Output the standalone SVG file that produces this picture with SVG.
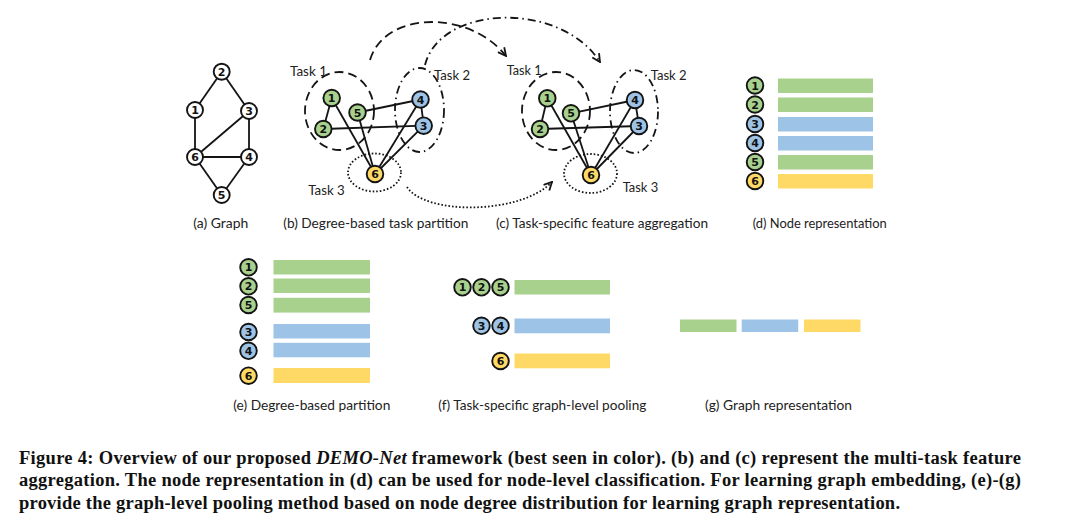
<svg xmlns="http://www.w3.org/2000/svg" width="1080" height="523" viewBox="0 0 1080 523">
<style>
.bg{fill:#ffffff}
.n circle{stroke:#141414;stroke-width:1.9}
.w{fill:#ffffff}
.g{fill:#A9D18E}
.b{fill:#9DC3E6}
.y{fill:#FFD966}
.n text{font-family:"DejaVu Sans","Liberation Sans",sans-serif;font-weight:bold;font-size:11px;fill:#111;text-anchor:middle}
.e{stroke:#141414;stroke-width:1.8;fill:none}
.t1{fill:none;stroke:#141414;stroke-width:1.8;stroke-dasharray:9 5}
.t2{fill:none;stroke:#141414;stroke-width:1.8;stroke-dasharray:8 4 1.5 4}
.t3{fill:none;stroke:#141414;stroke-width:1.8;stroke-dasharray:1.6 2}
.lbl{font-family:Lato,"Liberation Sans",sans-serif;font-size:13.5px;fill:#222}
.bg1{fill:#A9D18E}
.bb1{fill:#9DC3E6}
.by1{fill:#FFD966}
.cap{font-family:"Liberation Serif","Times New Roman",serif;font-weight:bold;font-size:18.5px;fill:#111}
</style>
<defs>
<marker id="ah" viewBox="0 0 10 10" refX="9" refY="5" markerWidth="10" markerHeight="10" markerUnits="userSpaceOnUse" orient="auto">
<path d="M1,1 L9,5 L1,9" fill="none" stroke="#141414" stroke-width="1.8" stroke-dasharray="none"/>
</marker>
</defs>
<rect class="bg" x="0" y="0" width="1080" height="523"/>

<g id="connectors">
<g id="edges-a">
<line class="e" x1="221.7" y1="71.7" x2="195" y2="110"/>
<line class="e" x1="221.7" y1="71.7" x2="249" y2="111"/>
<line class="e" x1="195" y1="110" x2="195" y2="157"/>
<line class="e" x1="249" y1="111" x2="195" y2="157"/>
<line class="e" x1="249" y1="111" x2="249" y2="157"/>
<line class="e" x1="195" y1="157" x2="249" y2="157"/>
<line class="e" x1="195" y1="157" x2="221.7" y2="195"/>
<line class="e" x1="249" y1="157" x2="221.7" y2="195"/>
</g>
<g id="tasks-b">
<ellipse class="t1" cx="339.5" cy="111" rx="34.5" ry="39"/>
<ellipse class="t2" cx="419.5" cy="110" rx="24.5" ry="42"/>
<ellipse class="t3" cx="374.5" cy="172.5" rx="26.5" ry="19"/>
</g>
<g id="tasks-c">
<ellipse class="t1" cx="556" cy="111" rx="34" ry="39"/>
<ellipse class="t2" cx="634" cy="111.5" rx="24" ry="41.5"/>
<ellipse class="t3" cx="590.5" cy="173.5" rx="26.5" ry="19.5"/>
</g>
<g id="edges-b">
<line class="e" x1="331.7" y1="98" x2="323.3" y2="129"/>
<line class="e" x1="331.7" y1="98" x2="375" y2="174"/>
<line class="e" x1="357.5" y1="112.5" x2="375" y2="174"/>
<line class="e" x1="357.5" y1="112.5" x2="420.5" y2="99.5"/>
<line class="e" x1="323.3" y1="129" x2="423.7" y2="125.7"/>
<line class="e" x1="420.5" y1="99.5" x2="423.7" y2="125.7"/>
<line class="e" x1="420.5" y1="99.5" x2="375" y2="174"/>
<line class="e" x1="423.7" y1="125.7" x2="375" y2="174"/>
</g>
<g id="edges-c">
<line class="e" x1="547.3" y1="98.3" x2="540" y2="129"/>
<line class="e" x1="547.3" y1="98.3" x2="591" y2="175"/>
<line class="e" x1="571" y1="113.3" x2="591" y2="175"/>
<line class="e" x1="571" y1="113.3" x2="635" y2="100"/>
<line class="e" x1="540" y1="129" x2="639" y2="126"/>
<line class="e" x1="635" y1="100" x2="639" y2="126"/>
<line class="e" x1="635" y1="100" x2="591" y2="175"/>
<line class="e" x1="639" y1="126" x2="591" y2="175"/>
</g>
<g id="arrows">
<path class="t1" d="M370,60 C385,10 470,10 506,56" marker-end="url(#ah)"/>
<path class="t2" d="M425,65 C440,5 560,0 600,62" marker-end="url(#ah)"/>
<path class="t3" d="M407,187 C425,215 520,215 552,182" marker-end="url(#ah)"/>
</g>
</g>

<g id="a2" class="n"><circle class="w" cx="221.7" cy="71.7" r="8"/><text x="221.7" y="75.7">2</text></g>
<g id="a1" class="n"><circle class="w" cx="195" cy="110" r="8"/><text x="195" y="114">1</text></g>
<g id="a3" class="n"><circle class="w" cx="249" cy="111" r="8"/><text x="249" y="115">3</text></g>
<g id="a6" class="n"><circle class="w" cx="195" cy="157" r="8"/><text x="195" y="161">6</text></g>
<g id="a4" class="n"><circle class="w" cx="249" cy="157" r="8"/><text x="249" y="161">4</text></g>
<g id="a5" class="n"><circle class="w" cx="221.7" cy="195" r="8"/><text x="221.7" y="199">5</text></g>

<g id="b1" class="n"><circle class="g" cx="331.7" cy="98" r="8.3"/><text x="331.7" y="102">1</text></g>
<g id="b5" class="n"><circle class="g" cx="357.5" cy="112.5" r="8.3"/><text x="357.5" y="116.5">5</text></g>
<g id="b2" class="n"><circle class="g" cx="323.3" cy="129" r="8.3"/><text x="323.3" y="133">2</text></g>
<g id="b4" class="n"><circle class="b" cx="420.5" cy="99.5" r="8.3"/><text x="420.5" y="103.5">4</text></g>
<g id="b3" class="n"><circle class="b" cx="423.7" cy="125.7" r="8.3"/><text x="423.7" y="129.7">3</text></g>
<g id="b6" class="n"><circle class="y" cx="375" cy="174" r="8.3"/><text x="375" y="178">6</text></g>

<g id="c1" class="n"><circle class="g" cx="547.3" cy="98.3" r="8.3"/><text x="547.3" y="102.3">1</text></g>
<g id="c5" class="n"><circle class="g" cx="571" cy="113.3" r="8.3"/><text x="571" y="117.3">5</text></g>
<g id="c2" class="n"><circle class="g" cx="540" cy="129" r="8.3"/><text x="540" y="133">2</text></g>
<g id="c4" class="n"><circle class="b" cx="635" cy="100" r="8.3"/><text x="635" y="104">4</text></g>
<g id="c3" class="n"><circle class="b" cx="639" cy="126" r="8.3"/><text x="639" y="130">3</text></g>
<g id="c6" class="n"><circle class="y" cx="591" cy="175" r="8.3"/><text x="591" y="179">6</text></g>

<g id="task-labels" class="lbl">
<text x="290" y="75.5" textLength="37" lengthAdjust="spacingAndGlyphs">Task 1</text>
<text x="434" y="79.5" textLength="36" lengthAdjust="spacingAndGlyphs">Task 2</text>
<text x="308.3" y="195" textLength="36.5" lengthAdjust="spacingAndGlyphs">Task 3</text>
<text x="506.7" y="75" textLength="35" lengthAdjust="spacingAndGlyphs">Task 1</text>
<text x="650.7" y="79.5" textLength="36" lengthAdjust="spacingAndGlyphs">Task 2</text>
<text x="622.7" y="192" textLength="35.5" lengthAdjust="spacingAndGlyphs">Task 3</text>
</g>

<g id="panel-d">
<rect class="bg1" x="778" y="78.5" width="95" height="14.5"/>
<rect class="bg1" x="778" y="97.5" width="95" height="14.5"/>
<rect class="bb1" x="778" y="117" width="95" height="14.5"/>
<rect class="bb1" x="778" y="136" width="95" height="14.5"/>
<rect class="bg1" x="778" y="155" width="95" height="14.5"/>
<rect class="by1" x="778" y="174" width="95" height="14.5"/>
</g>
<g id="d1" class="n"><circle class="g" cx="755" cy="85.5" r="8.3"/><text x="755" y="89.5">1</text></g>
<g id="d2" class="n"><circle class="g" cx="755" cy="104.5" r="8.3"/><text x="755" y="108.5">2</text></g>
<g id="d3" class="n"><circle class="b" cx="755" cy="124" r="8.3"/><text x="755" y="128">3</text></g>
<g id="d4" class="n"><circle class="b" cx="755" cy="143" r="8.3"/><text x="755" y="147">4</text></g>
<g id="d5" class="n"><circle class="g" cx="755" cy="162" r="8.3"/><text x="755" y="166">5</text></g>
<g id="d6" class="n"><circle class="y" cx="755" cy="181" r="8.3"/><text x="755" y="185">6</text></g>

<g id="panel-e">
<rect class="bg1" x="273.5" y="260" width="96.5" height="14.5"/>
<rect class="bg1" x="273.5" y="278.5" width="96.5" height="14.5"/>
<rect class="bg1" x="273.5" y="297.8" width="96.5" height="14.8"/>
<rect class="bb1" x="273.5" y="324" width="96.5" height="14.5"/>
<rect class="bb1" x="273.5" y="342.8" width="96.5" height="14.5"/>
<rect class="by1" x="273.5" y="368" width="96.5" height="15"/>
</g>
<g id="e1" class="n"><circle class="g" cx="248.5" cy="267.3" r="8.3"/><text x="248.5" y="271.3">1</text></g>
<g id="e2" class="n"><circle class="g" cx="248.5" cy="286.3" r="8.3"/><text x="248.5" y="290.3">2</text></g>
<g id="e5" class="n"><circle class="g" cx="248.5" cy="305" r="8.3"/><text x="248.5" y="309">5</text></g>
<g id="e3" class="n"><circle class="b" cx="248.5" cy="332" r="8.3"/><text x="248.5" y="336">3</text></g>
<g id="e4" class="n"><circle class="b" cx="248.5" cy="350.8" r="8.3"/><text x="248.5" y="354.8">4</text></g>
<g id="e6" class="n"><circle class="y" cx="248.5" cy="375.7" r="8.3"/><text x="248.5" y="379.7">6</text></g>

<g id="panel-f">
<rect class="bg1" x="514.5" y="280" width="95.5" height="14.5"/>
<rect class="bb1" x="514.5" y="318.5" width="95.5" height="14.8"/>
<rect class="by1" x="514.5" y="353.5" width="95.5" height="14.8"/>
</g>
<g id="f1" class="n"><circle class="g" cx="462.5" cy="287.3" r="8.3"/><text x="462.5" y="291.3">1</text></g>
<g id="f2" class="n"><circle class="g" cx="481.5" cy="287.3" r="8.3"/><text x="481.5" y="291.3">2</text></g>
<g id="f5" class="n"><circle class="g" cx="500.5" cy="287.3" r="8.3"/><text x="500.5" y="291.3">5</text></g>
<g id="f3" class="n"><circle class="b" cx="481.5" cy="325.8" r="8.3"/><text x="481.5" y="329.8">3</text></g>
<g id="f4" class="n"><circle class="b" cx="500.5" cy="325.8" r="8.3"/><text x="500.5" y="329.8">4</text></g>
<g id="f6" class="n"><circle class="y" cx="500.5" cy="361" r="8.3"/><text x="500.5" y="365">6</text></g>

<g id="panel-g">
<rect class="bg1" x="680" y="319.5" width="56.5" height="12.5"/>
<rect class="bb1" x="741.7" y="319.5" width="56.5" height="12.5"/>
<rect class="by1" x="804" y="319.5" width="56.5" height="12.5"/>
</g>

<g id="subcaptions" class="lbl">
<text x="193.3" y="227.5" textLength="55" lengthAdjust="spacingAndGlyphs">(a) Graph</text>
<text x="283.3" y="227.5" textLength="185" lengthAdjust="spacingAndGlyphs">(b) Degree-based task partition</text>
<text x="496" y="227.5" textLength="212" lengthAdjust="spacingAndGlyphs">(c) Task-specific feature aggregation</text>
<text x="752.7" y="227.5" textLength="134" lengthAdjust="spacingAndGlyphs">(d) Node representation</text>
<text x="233.3" y="409.5" textLength="157" lengthAdjust="spacingAndGlyphs">(e) Degree-based partition</text>
<text x="438.3" y="409.5" textLength="208" lengthAdjust="spacingAndGlyphs">(f) Task-specific graph-level pooling</text>
<text x="705" y="409.5" textLength="147" lengthAdjust="spacingAndGlyphs">(g) Graph representation</text>
</g>

<g id="caption" class="cap">
<text x="19" y="463.5" textLength="1002" lengthAdjust="spacing">Figure 4: Overview of our proposed <tspan font-style="italic">DEMO-Net</tspan> framework (best seen in color). (b) and (c) represent the multi-task feature</text>
<text x="19" y="486" textLength="1002" lengthAdjust="spacing">aggregation. The node representation in (d) can be used for node-level classification. For learning graph embedding, (e)-(g)</text>
<text x="19" y="508.5" textLength="881" lengthAdjust="spacing">provide the graph-level pooling method based on node degree distribution for learning graph representation.</text>
</g>
</svg>
